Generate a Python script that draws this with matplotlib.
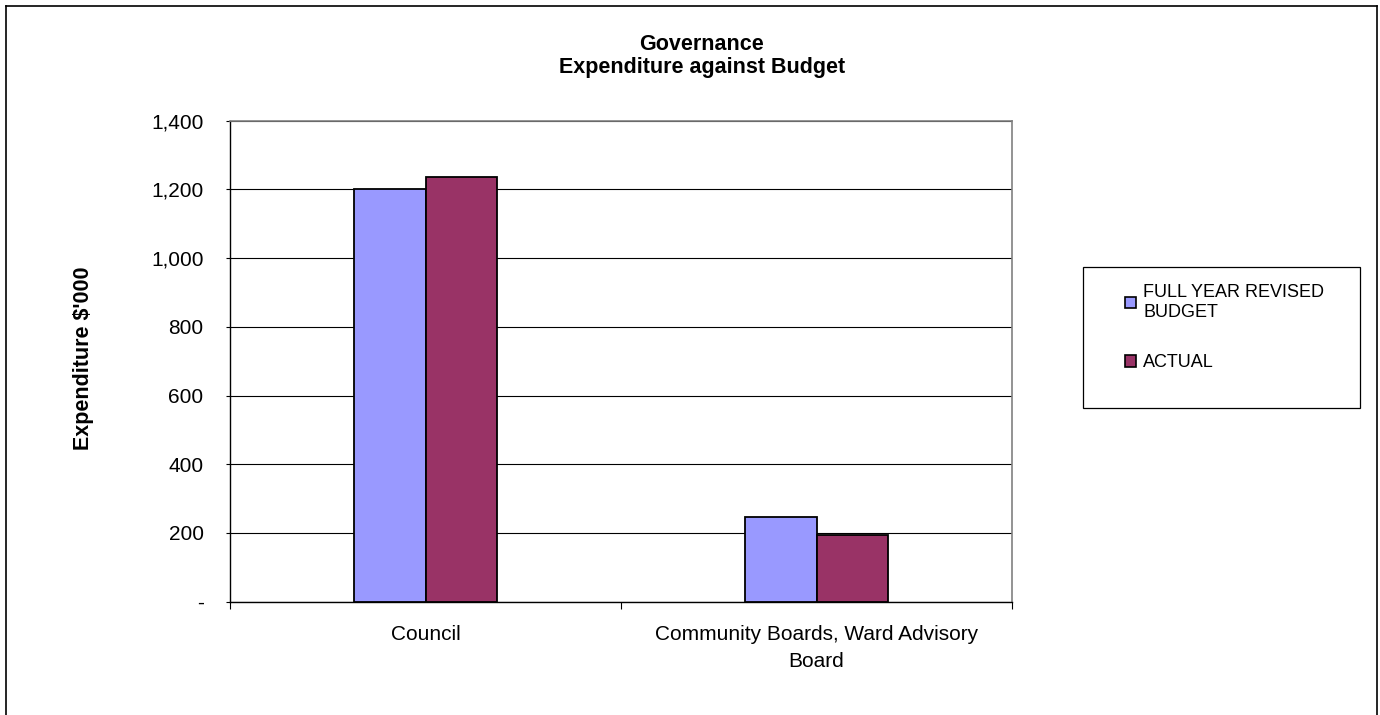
import matplotlib.pyplot as plt
import matplotlib.ticker as mticker
from matplotlib.lines import Line2D
from matplotlib.patches import Rectangle, Patch

plt.rcParams['font.family'] = ['Liberation Sans', 'DejaVu Sans']

categories = ['Council', 'Community Boards, Ward Advisory\nBoard']
budget = [1200, 247]
actual = [1237, 195]
series_names = ['FULL YEAR REVISED\nBUDGET', 'ACTUAL']
colors = ['#9999FF', '#993366']

W, H = 1380, 715
fig = plt.figure(figsize=(W / 100, H / 100), dpi=100)
ax = fig.add_axes([230 / W, 1 - 601.6 / H, (1012 - 230) / W, (601.6 - 120.7) / H])

x = range(len(categories))
width = 0.184
ax.bar([i - width / 2 for i in x], budget, width, color=colors[0],
       edgecolor='black', linewidth=1.3, zorder=3)
ax.bar([i + width / 2 for i in x], actual, width, color=colors[1],
       edgecolor='black', linewidth=1.3, zorder=3)

ax.set_xlim(-0.5, len(categories) - 0.5)
ax.set_ylim(0, 1400)
ax.set_yticks(range(0, 1401, 200))
ax.yaxis.set_major_formatter(mticker.FuncFormatter(
    lambda v, p: '-' if v == 0 else f'{int(v):,}'))
ax.yaxis.grid(True, color='black', linewidth=0.8, zorder=0)

ax.set_xticks(list(x))
ax.set_xticklabels(categories, fontsize=15, linespacing=1.5)
ax.set_xticks([-0.5, 0.5, 1.5], minor=True)
ax.tick_params(axis='x', which='major', length=0, pad=17)
ax.tick_params(axis='x', which='minor', length=5, width=0.8, direction='out')
ax.tick_params(axis='y', length=3, width=0.8, pad=16, labelsize=15)

for side in ['top', 'right']:
    ax.spines[side].set_color('#808080')
    ax.spines[side].set_linewidth(1.2)
for side in ['left', 'bottom']:
    ax.spines[side].set_color('black')
    ax.spines[side].set_linewidth(1.0)

fig.text(702 / W, 1 - 45 / H, 'Governance', ha='center', va='center',
         fontsize=15.5, fontweight='bold')
fig.text(702 / W, 1 - 67 / H, 'Expenditure against Budget', ha='center',
         va='center', fontsize=15.5, fontweight='bold')
fig.text(83 / W, 1 - 358 / H, "Expenditure $'000", ha='center', va='center',
         rotation=90, fontsize=15.5, fontweight='bold')

# legend box
fig.patches.append(Rectangle((1083 / W, 1 - 408 / H), (1360 - 1083) / W,
                             (408 - 267) / H, transform=fig.transFigure,
                             facecolor='white', edgecolor='black', linewidth=0.9))
handles = [Patch(facecolor=c, edgecolor='black', linewidth=1.2) for c in colors]
fig.legend(handles, series_names, loc='upper left',
           bbox_to_anchor=(1118 / W, 1 - 277 / H), frameon=False, fontsize=13,
           handlelength=0.6, handleheight=0.6, handletextpad=0.4,
           labelspacing=1.85, borderaxespad=0)

# outer chart border
for xs, ys in [([6, 6], [6, 720]), ([6, 1377], [6, 6]), ([1377, 1377], [6, 720])]:
    fig.add_artist(Line2D([v / W for v in xs], [1 - v / H for v in ys],
                          transform=fig.transFigure, color='black', linewidth=1.2))

fig.savefig('out.png', dpi=100, facecolor='white')
